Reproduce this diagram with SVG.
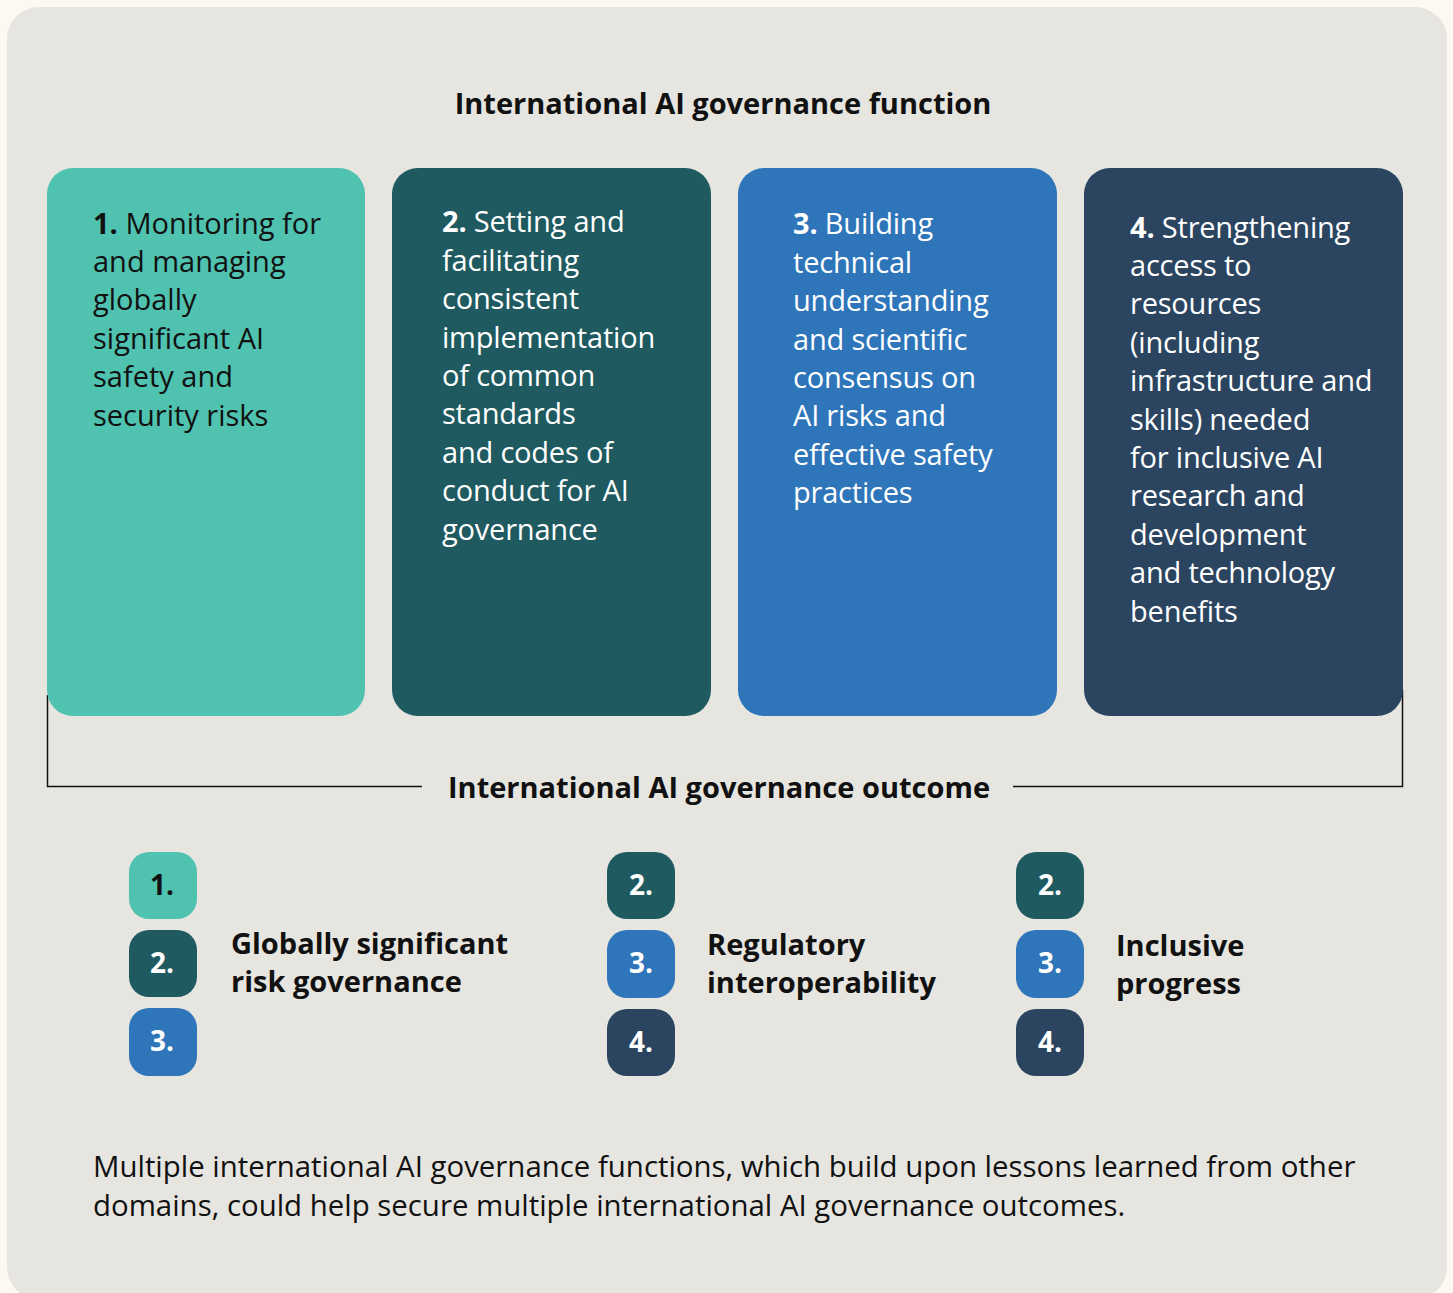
<svg xmlns="http://www.w3.org/2000/svg" width="1453" height="1293" viewBox="0 0 1453 1293">
<style>
text{font-family:"Open Sans","Noto Sans","DejaVu Sans",sans-serif;}
.t{font-size:29px;fill:#111;}
.w{font-size:29px;fill:#fff;letter-spacing:-0.2px;}
.h{font-size:29px;font-weight:700;fill:#111;}
.f{font-size:29.4px;fill:#111;}
.b{font-weight:700;}
.bd{font-size:28px;font-weight:700;text-anchor:middle;}
.c1{fill:#50C2B0;}.c2{fill:#1F5A60;}.c3{fill:#2E75BA;}.c4{fill:#2B4560;}
</style>
<rect x="0" y="0" width="1453" height="1293" fill="#FEF8F3"/>
<rect x="7" y="7" width="1440" height="1292" rx="32" fill="#E6E5E0"/>
<text class="h" x="723" y="114" text-anchor="middle">International AI governance function</text>
<g id="connectors" fill="none" stroke="#111" stroke-width="1.5">
<polyline points="47.5,695 47.5,786.5 422,786.5"/>
<polyline points="1013,786.5 1402.5,786.5 1402.5,690"/>
</g>
<g id="node1">
<rect class="c1" x="47" y="168" width="318" height="548" rx="26"/>
<text class="t" x="93"><tspan x="93" y="234"><tspan class="b">1.</tspan> Monitoring for</tspan><tspan x="93" y="272">and managing</tspan><tspan x="93" y="310">globally</tspan><tspan x="93" y="349">significant AI</tspan><tspan x="93" y="387">safety and</tspan><tspan x="93" y="426">security risks</tspan></text>
</g>
<g id="node2">
<rect class="c2" x="392" y="168" width="319" height="548" rx="26"/>
<text class="w" x="442"><tspan x="442" y="232"><tspan class="b">2.</tspan> Setting and</tspan><tspan x="442" y="271">facilitating</tspan><tspan x="442" y="309">consistent</tspan><tspan x="442" y="348">implementation</tspan><tspan x="442" y="386">of common</tspan><tspan x="442" y="424">standards</tspan><tspan x="442" y="463">and codes of</tspan><tspan x="442" y="501">conduct for AI</tspan><tspan x="442" y="540">governance</tspan></text>
</g>
<g id="node3">
<rect class="c3" x="738" y="168" width="319" height="548" rx="26"/>
<text class="w" x="793"><tspan x="793" y="234"><tspan class="b">3.</tspan> Building</tspan><tspan x="793" y="273">technical</tspan><tspan x="793" y="311">understanding</tspan><tspan x="793" y="350">and scientific</tspan><tspan x="793" y="388">consensus on</tspan><tspan x="793" y="426">AI risks and</tspan><tspan x="793" y="465">effective safety</tspan><tspan x="793" y="503">practices</tspan></text>
</g>
<g id="node4">
<rect class="c4" x="1084" y="168" width="319" height="548" rx="26"/>
<text class="w" x="1130"><tspan x="1130" y="238"><tspan class="b">4.</tspan> Strengthening</tspan><tspan x="1130" y="276">access to</tspan><tspan x="1130" y="314">resources</tspan><tspan x="1130" y="353">(including</tspan><tspan x="1130" y="391">infrastructure and</tspan><tspan x="1130" y="430">skills) needed</tspan><tspan x="1130" y="468">for inclusive AI</tspan><tspan x="1130" y="506">research and</tspan><tspan x="1130" y="545">development</tspan><tspan x="1130" y="583">and technology</tspan><tspan x="1130" y="622">benefits</tspan></text>
</g>
<text class="h" x="719" y="798" text-anchor="middle">International AI governance outcome</text>
<g id="outcome1">
<rect class="c1" x="129" y="852" width="68" height="67" rx="20"/>
<text class="bd" x="162" y="895" fill="#111">1.</text>
<rect class="c2" x="129" y="930" width="68" height="67" rx="20"/>
<text class="bd" x="162" y="973" fill="#fff">2.</text>
<rect class="c3" x="129" y="1008" width="68" height="68" rx="20"/>
<text class="bd" x="162" y="1051" fill="#fff">3.</text>
<text class="h" x="231"><tspan x="231" y="954">Globally significant</tspan><tspan x="231" y="992">risk governance</tspan></text>
</g>
<g id="outcome2">
<rect class="c2" x="607" y="852" width="68" height="67" rx="20"/>
<text class="bd" x="641" y="895" fill="#fff">2.</text>
<rect class="c3" x="607" y="930" width="68" height="68" rx="20"/>
<text class="bd" x="641" y="973" fill="#fff">3.</text>
<rect class="c4" x="607" y="1009" width="68" height="67" rx="20"/>
<text class="bd" x="641" y="1052" fill="#fff">4.</text>
<text class="h" x="707"><tspan x="707" y="955">Regulatory</tspan><tspan x="707" y="993">interoperability</tspan></text>
</g>
<g id="outcome3">
<rect class="c2" x="1016" y="852" width="68" height="67" rx="20"/>
<text class="bd" x="1050" y="895" fill="#fff">2.</text>
<rect class="c3" x="1016" y="930" width="68" height="68" rx="20"/>
<text class="bd" x="1050" y="973" fill="#fff">3.</text>
<rect class="c4" x="1016" y="1009" width="68" height="67" rx="20"/>
<text class="bd" x="1050" y="1052" fill="#fff">4.</text>
<text class="h" x="1116"><tspan x="1116" y="956">Inclusive</tspan><tspan x="1116" y="994">progress</tspan></text>
</g>
<text class="f" x="93"><tspan x="93" y="1177">Multiple international AI governance functions, which build upon lessons learned from other</tspan><tspan x="93" y="1216">domains, could help secure multiple international AI governance outcomes.</tspan></text>
</svg>
